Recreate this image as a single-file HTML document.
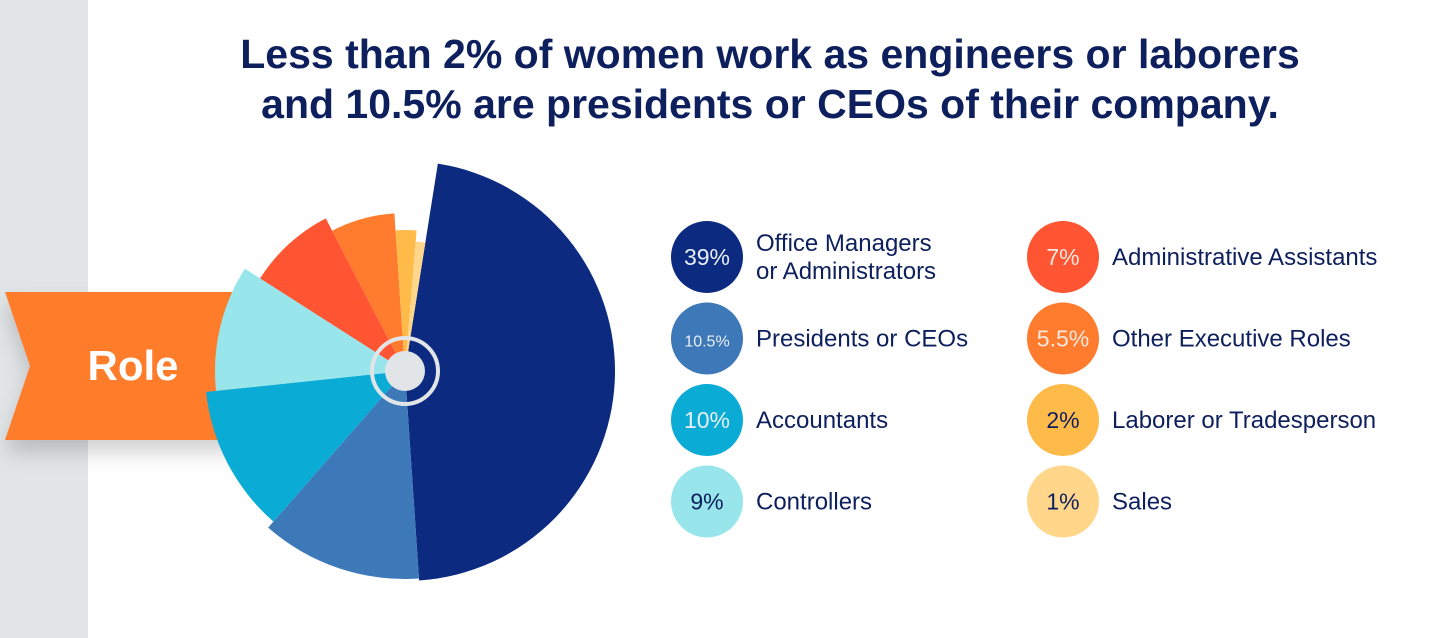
<!DOCTYPE html>
<html><head><meta charset="utf-8"><style>
body{margin:0;width:1439px;height:638px;overflow:hidden;background:#fff;font-family:"Liberation Sans",sans-serif}
svg{display:block}
</style></head><body>
<svg id="chart" width="1439" height="638">
<defs><filter id="sh" x="-20%" y="-20%" width="140%" height="160%"><feDropShadow dx="0" dy="12" stdDeviation="10" flood-color="#000" flood-opacity="0.18"/></filter></defs>
<rect x="0" y="0" width="88" height="638" fill="#e1e5e7"/>
<text x="770" y="68" text-anchor="middle" font-size="41" font-weight="bold" fill="#0d1f5c">Less than 2% of women work as engineers or laborers</text>
<text x="770" y="118" text-anchor="middle" font-size="41" font-weight="bold" fill="#0d1f5c">and 10.5% are presidents or CEOs of their company.</text>
<polygon points="5,292 240,292 240,440 5,440 30,366" fill="#ff7b2c" filter="url(#sh)"/>
<text x="133" y="380" text-anchor="middle" font-size="42" font-weight="bold" fill="#fff">Role</text>
<g id="pie"></g>
<g id="legend"></g>
</svg>
<script>
const categories=["Office Managers|or Administrators","Presidents or CEOs","Accountants","Controllers","Administrative Assistants","Other Executive Roles","Laborer or Tradesperson","Sales"];
const values=[39,10.5,10,9,7,5.5,2,1];
const valueLabels=["39%","10.5%","10%","9%","7%","5.5%","2%","1%"];
const colors=["#0b2a80","#3d78b8","#0aabd4","#98e6ec","#ff5532","#ff7b2e","#ffbb4a","#ffd68a"];
const labelColors=["#e8eef5","#e8eef5","#e8eef5","#0d1f5c","#f5e8e0","#f5e8e0","#0d1f5c","#0d1f5c"];
const radii=[210,208,200,190,172,158,141,130];
const NS="http://www.w3.org/2000/svg";
const cx=405,cy=371,startDeg=9;
const total=values.reduce((a,b)=>a+b,0);
const pie=document.getElementById('pie');
function pt(deg,r){const a=deg*Math.PI/180;return [cx+r*Math.sin(a),cy-r*Math.cos(a)];}
let ang=startDeg;
values.forEach((v,i)=>{
  const span=v/total*360,r=radii[i];
  const p1=pt(ang,r),p2=pt(ang+span,r);
  const p=document.createElementNS(NS,'path');
  p.setAttribute('d',`M${cx},${cy}L${p1[0]},${p1[1]}A${r},${r} 0 ${span>180?1:0} 1 ${p2[0]},${p2[1]}Z`);
  p.setAttribute('fill',colors[i]);
  
  
  pie.appendChild(p);
  ang+=span;
});
const ring=document.createElementNS(NS,'circle');
ring.setAttribute('cx',cx);ring.setAttribute('cy',cy);ring.setAttribute('r',33);
ring.setAttribute('fill','none');ring.setAttribute('stroke','#e1e5e7');ring.setAttribute('stroke-width','4');


pie.appendChild(ring);
const dot=document.createElementNS(NS,'circle');
dot.setAttribute('cx',cx);dot.setAttribute('cy',cy);dot.setAttribute('r',20);dot.setAttribute('fill','#e1e5e7');


pie.appendChild(dot);
const lg=document.getElementById('legend');
categories.forEach((c,i)=>{
  const col=i<4?0:1,row=i%4;
  const x=col?1063:707,y=257+row*81.5;
  const g=document.createElementNS(NS,'g');
  
  
  const ci=document.createElementNS(NS,'circle');
  ci.setAttribute('cx',x);ci.setAttribute('cy',y);ci.setAttribute('r',36);ci.setAttribute('fill',colors[i]);
  
  
  g.appendChild(ci);
  const t=document.createElementNS(NS,'text');
  t.setAttribute('x',x);t.setAttribute('y',y+8);t.setAttribute('text-anchor','middle');
  t.setAttribute('font-size',valueLabels[i].length>4?16:23);t.setAttribute('fill',labelColors[i]);
  t.textContent=valueLabels[i];
  
  
  g.appendChild(t);
  const lines=c.split('|');
  lines.forEach((ln,k)=>{
    const tt=document.createElementNS(NS,'text');
    tt.setAttribute('x',x+49);
    tt.setAttribute('y',y+8+(lines.length>1?(k-0.5)*28:0));
    tt.setAttribute('font-size',24);tt.setAttribute('fill','#0d1f5c');
    tt.textContent=ln;
    
    
    g.appendChild(tt);
  });
  lg.appendChild(g);
});
</script>
</body></html>
